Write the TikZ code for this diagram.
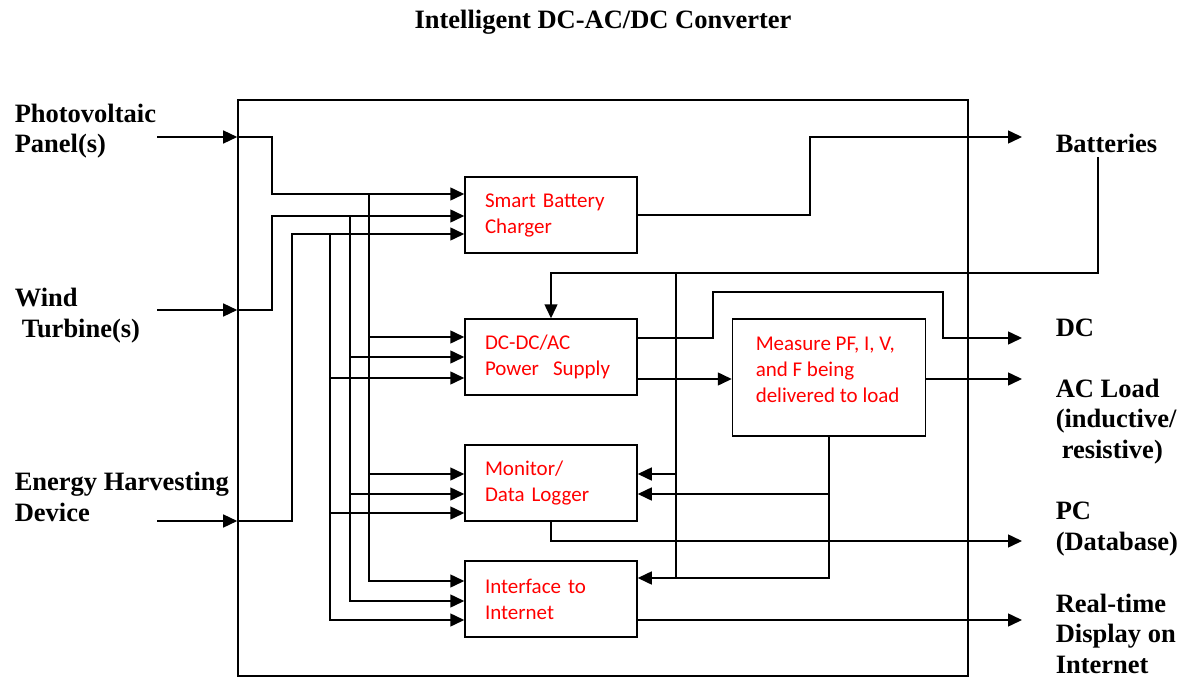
\documentclass[tikz,border=0pt]{standalone}
\usepackage{fontspec}
\setmainfont{Liberation Serif}
\newfontfamily\boxfont{Carlito}
\usetikzlibrary{arrows.meta,positioning}

\begin{document}
\begin{tikzpicture}[x=1pt, y=-1pt, line width=1.5pt,
  lbl/.style={font=\bfseries\fontsize{26.5}{30.5}\selectfont, align=left, inner sep=0pt},
  unit/.style={draw, font=\boxfont\fontsize{21}{26}\selectfont, text=red, align=left,
    text width=132pt, inner xsep=20pt, inner ysep=0pt, minimum height=76pt},
  arr/.style={-{Triangle[length=14pt,width=13pt]}}]
  \useasboundingbox (0,0) rectangle (1179,677);

  % Title and converter frame
  \node[lbl, anchor=base] (title) at (603,29) {Intelligent DC-AC/DC Converter};
  \node[draw, line width=1.6pt, minimum width=730pt, minimum height=576pt, inner sep=0pt] (conv) at (603,388) {};

  % Blocks
  \node[unit] (chg) at (551,215) {Smart Battery\\Charger};
  \node[unit] (dcdc) at (551,357) {DC-DC/AC\\Power~ Supply};
  \node[unit] (mon) at (551,483) {Monitor/\\Data Logger};
  \node[unit] (iface) at (551,599) {Interface to\\Internet};
  \node[unit, text width=149pt, inner xsep=22pt, minimum height=117pt] (meas) at (829,377.5) {};
  \node[font=\boxfont\fontsize{21}{26}\selectfont, text=red, align=left, inner sep=0pt, anchor=base west] (meastxt) at (755,402) {Measure PF, I, V,\\and F being\\delivered to load};

  % Sources
  \node[lbl, anchor=base west] (pv) at (14,153) {Photovoltaic\\Panel(s)};
  \node[lbl, anchor=base west] (wind) at (14,337) {Wind\\\hspace*{7pt}Turbine(s)};
  \node[lbl, anchor=base west] (ehd) at (14,521) {Energy Harvesting\\Device};

  % Outputs
  \node[lbl, anchor=base west] (batt) at (1055,152) {Batteries};
  \node[lbl, anchor=base west] (dc) at (1055,336) {DC};
  \node[lbl, anchor=base west] (acl) at (1055,458) {AC Load\\(inductive/\\\hspace*{6pt}resistive)};
  \node[lbl, anchor=base west] (pc) at (1055,550) {PC\\(Database)};
  \node[lbl, anchor=base west] (rtd) at (1055,673) {Real-time\\Display on\\Internet};

  \coordinate (pvin) at (157,137);
  \coordinate (windin) at (157,310);
  \coordinate (ehdin) at (157,521);
  \coordinate (battin) at (1022,137);
  \coordinate (battfb) at (1098,157);
  \coordinate (dcin) at (1022,338);
  \coordinate (acin) at (1022,379);
  \coordinate (pcin) at (1022,541);
  \coordinate (netin) at (1022,620);

  % Inputs into the converter
  \draw[arr] (pvin) -- (pvin -| conv.west);
  \draw[arr] (windin) -- (windin -| conv.west);
  \draw[arr] (ehdin) -- (ehdin -| conv.west);
  \draw[arr] (pvin -| conv.west) -| (272,194) -- (chg.west |- 0,194);
  \draw[arr] (windin -| conv.west) -| (272,216) -- (chg.west |- 0,216);
  \draw[arr] (ehdin -| conv.west) -| (292,234) -- (chg.west |- 0,234);

  % Bus from PV
  \draw[arr] (369,194) |- (iface.west |- 0,581);
  \draw[arr] (369,337) -- (dcdc.west |- 0,337);
  \draw[arr] (369,474) -- (mon.west |- 0,474);
  % Bus from wind
  \draw[arr] (350,216) |- (iface.west |- 0,601);
  \draw[arr] (350,357) -- (dcdc.west |- 0,357);
  \draw[arr] (350,494) -- (mon.west |- 0,494);
  % Bus from energy harvesting
  \draw[arr] (330,234) |- (iface.west |- 0,620);
  \draw[arr] (330,378) -- (dcdc.west |- 0,378);
  \draw[arr] (330,513) -- (mon.west |- 0,513);

  % Charger to batteries and back to the supply
  \draw[arr] (chg.east) -| (810,137) -- (battin);
  \draw[arr] (battfb) |- (676,273) -| (dcdc.north);
  \draw (676,273) -- (676,578);
  \draw[arr] (676,474) -- (mon.east |- 0,474);

  % Measurements
  \draw[arr] (meas.south) |- (iface.east |- 0,578);
  \draw[arr] (meas.south |- 0,494) -- (mon.east |- 0,494);

  % Outputs
  \draw[arr] (dcdc.east |- 0,338) -| (713,292) -| (943,338) -- (dcin);
  \draw[arr] (dcdc.east |- 0,379) -- (meas.west |- 0,379);
  \draw[arr] (meas.east |- 0,379) -- (acin);
  \draw[arr] (mon.south) |- (pcin);
  \draw[arr] (iface.east |- 0,620) -- (netin);
\end{tikzpicture}
\end{document}
